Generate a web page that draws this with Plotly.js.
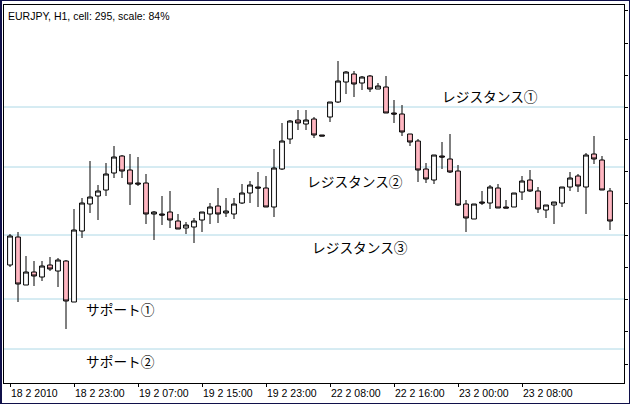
<!DOCTYPE html>
<html>
<head>
<meta charset="utf-8">
<script src="https://cdn.plot.ly/plotly-3.0.1.min.js"></script>
<style>
  html, body { margin: 0; padding: 0; background: #fff; }
  #wrap { position: relative; width: 630px; height: 404px; overflow: hidden; }
  #chart { position: absolute; left: 0; top: 0; width: 630px; height: 404px; }
  #frame { position: absolute; left: 0; top: 0; width: 630px; height: 404px; box-sizing: border-box;
           border: 1px solid #10104a; border-left-width: 2px; pointer-events: none; }
</style>
</head>
<body>
<div id="wrap"><div id="chart"></div><div id="frame"></div></div>
<script>
// ---- data ----
const chartTitle = 'EURJPY, H1, cell: 295, scale: 84%';
const barIndex = Array.from({length: 76}, (_, i) => i);

const openP = [121.85,122.13,121.65,121.78,121.73,121.85,121.79,121.89,121.48,122.19,
  122.46,122.54,122.60,122.77,122.94,122.80,122.67,122.67,122.36,122.36,
  122.38,122.29,122.22,122.23,122.30,122.36,122.44,122.37,122.36,122.47,
  122.57,122.63,122.62,122.43,122.81,123.11,123.30,123.26,123.31,123.15,
  123.33,123.48,123.68,123.76,123.67,123.74,123.61,123.63,123.37,123.36,
  123.16,123.09,122.81,122.70,122.94,122.91,122.79,122.46,122.31,122.48,
  122.47,122.62,122.43,122.43,122.58,122.70,122.59,122.40,122.45,122.47,
  122.63,122.74,122.63,122.96,122.90,122.59];
const highP = [122.16,122.18,121.94,121.89,121.89,121.93,121.92,121.90,122.41,122.52,
  122.89,122.65,122.87,123.04,122.95,122.96,122.93,122.76,122.39,122.54,
  122.59,122.36,122.28,122.32,122.38,122.47,122.62,122.52,122.52,122.66,
  122.69,122.78,122.74,123.01,123.27,123.30,123.40,123.40,123.33,123.15,
  123.48,123.89,123.79,123.79,123.74,123.75,123.67,123.74,123.50,123.45,
  123.16,123.11,122.87,122.95,123.08,123.16,122.85,122.50,122.46,122.59,
  122.65,122.66,122.50,122.57,122.74,122.80,122.63,122.45,122.48,122.63,
  122.78,122.76,122.97,123.14,122.94,122.62];
const lowP = [121.83,121.48,121.65,121.64,121.69,121.79,121.63,121.21,121.48,122.12,
  122.37,122.30,122.54,122.72,122.72,122.45,122.64,122.26,122.10,122.25,
  122.22,122.21,122.16,122.07,122.18,122.26,122.27,122.33,122.31,122.46,
  122.47,122.43,122.43,122.33,122.80,123.06,123.20,123.20,123.12,123.14,
  123.28,123.47,123.56,123.53,123.60,123.58,123.61,123.37,123.27,123.14,
  123.04,122.68,122.67,122.66,122.81,122.77,122.44,122.18,122.31,122.45,
  122.41,122.42,122.42,122.43,122.50,122.58,122.37,122.32,122.26,122.43,
  122.59,122.58,122.36,122.86,122.60,122.20];
const closeP = [122.14,121.66,121.78,121.74,121.84,121.81,121.90,121.49,122.20,122.47,
  122.53,122.59,122.76,122.93,122.79,122.66,122.66,122.36,122.38,122.35,
  122.30,122.21,122.25,122.29,122.38,122.43,122.36,122.39,122.46,122.57,
  122.65,122.62,122.43,122.82,123.09,123.29,123.27,123.30,123.15,123.14,
  123.48,123.69,123.78,123.66,123.73,123.61,123.64,123.37,123.36,123.18,
  123.08,122.80,122.71,122.95,122.93,122.78,122.45,122.32,122.46,122.47,
  122.63,122.42,122.42,122.57,122.69,122.59,122.41,122.45,122.48,122.63,
  122.72,122.64,122.95,122.91,122.60,122.29];

const tickBars = [0, 8, 16, 24, 32, 40, 48, 56, 64];
const tickLabels = ['18 2 2010','18 2 23:00','19 2 07:00','19 2 15:00','19 2 23:00',
  '22 2 08:00','22 2 16:00','23 2 00:00','23 2 08:00'];

const levelPrices = [123.43, 122.83, 122.15, 121.51, 121.01];
const levelLabels = ['レジスタンス①','レジスタンス②','レジスタンス③','サポート①','サポート②'];

// ---- label placement (chart coordinates) ----
const labelPos = [
  {x: 53.7, y: 123.54},
  {x: 36.9, y: 122.69},
  {x: 37.5, y: 122.03},
  {x: 9.3,  y: 121.41},
  {x: 9.3,  y: 120.89}
];

const trace = {
  type: 'candlestick',
  x: barIndex, open: openP, high: highP, low: lowP, close: closeP,
  increasing: {line: {color: '#000000', width: 1}, fillcolor: '#ffffff'},
  decreasing: {line: {color: '#000000', width: 1}, fillcolor: '#ffb6c1'},
  whiskerwidth: 0,
  hoverinfo: 'skip'
};

const shapes = levelPrices.map(p => ({
  type: 'line', xref: 'paper', x0: 0, x1: 1, yref: 'y', y0: p, y1: p,
  line: {color: '#add8e6', width: 1}, layer: 'below'
}));

const annotations = levelLabels.map((t, i) => ({
  text: t, x: labelPos[i].x, y: labelPos[i].y, xref: 'x', yref: 'y',
  xanchor: 'left', yanchor: 'middle', showarrow: false,
  font: {family: 'Noto Sans CJK JP', size: 13.7, color: '#000000'}
}));

const layout = {
  width: 630, height: 404,
  margin: {l: 4, r: 6, t: 5, b: 21, pad: 0},
  paper_bgcolor: '#ffffff', plot_bgcolor: '#ffffff',
  showlegend: false,
  boxgap: 0.25, boxgroupgap: 0.2,
  title: {
    text: chartTitle, xref: 'container', yref: 'container',
    x: 8 / 630, xanchor: 'left', y: 1 - 16 / 404, yanchor: 'middle',
    font: {family: 'Liberation Sans, Arial, sans-serif', size: 10.5, color: '#000000'}
  },
  xaxis: {
    range: [-0.75, 76.75], tickmode: 'array', tickvals: tickBars, ticktext: tickLabels,
    ticks: 'outside', ticklen: 3, tickcolor: '#000000', tickwidth: 1,
    ticklabelposition: 'outside right',
    tickfont: {family: 'Liberation Sans, Arial, sans-serif', size: 10.5, color: '#000000'},
    showline: true, mirror: true, linecolor: '#000000', linewidth: 1,
    showgrid: false, zeroline: false, rangeslider: {visible: false}, fixedrange: true
  },
  yaxis: {
    side: 'right', range: [120.67, 124.45], tick0: 120.86, dtick: 0.321,
    ticks: 'outside', ticklen: 3, tickcolor: '#000000', showticklabels: false,
    showline: true, mirror: true, linecolor: '#000000', linewidth: 1,
    showgrid: false, zeroline: false, fixedrange: true
  },
  shapes: shapes,
  annotations: annotations
};

Plotly.newPlot('chart', [trace], layout, {staticPlot: true, displayModeBar: false});
</script>
</body>
</html>
